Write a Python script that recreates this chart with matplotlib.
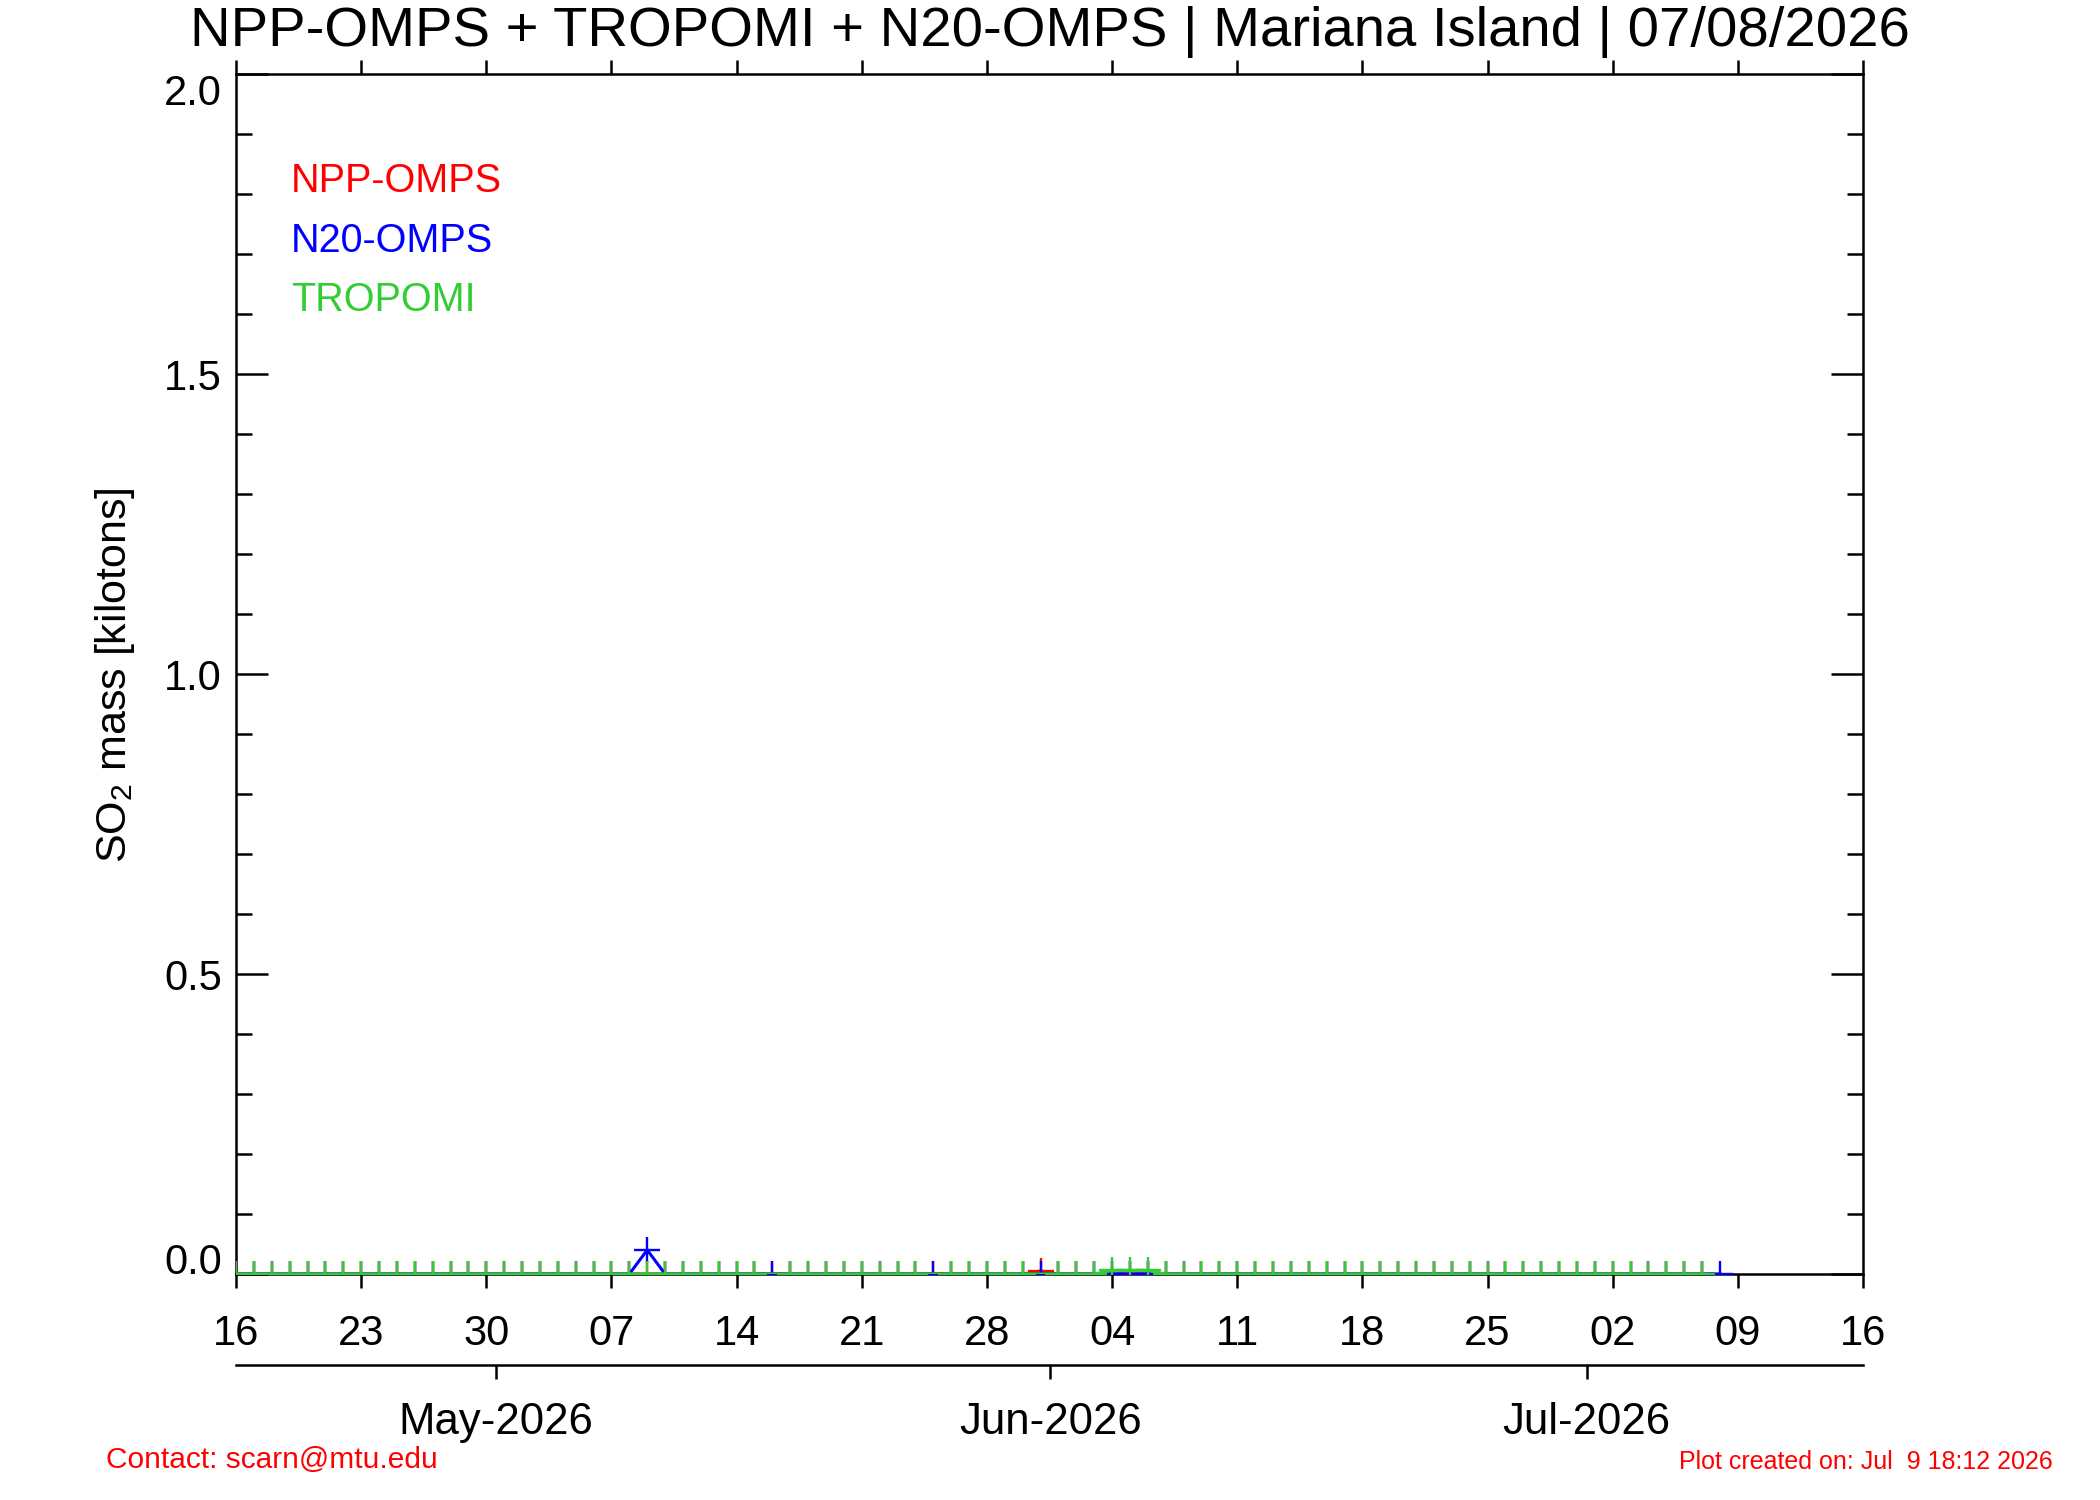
import matplotlib
matplotlib.use("Agg")
import matplotlib.pyplot as plt
import matplotlib.dates as mdates
from matplotlib.ticker import MultipleLocator, FixedLocator, NullLocator
import pandas as pd
import numpy as np

plt.rcParams['font.family'] = ['Liberation Sans', 'DejaVu Sans']
plt.rcParams['mathtext.fontset'] = 'custom'
plt.rcParams['mathtext.rm'] = 'Liberation Sans'
plt.rcParams['mathtext.default'] = 'regular'

# ---------------- data ----------------
title = "NPP-OMPS + TROPOMI + N20-OMPS | Mariana Island | 07/08/2026"
series_names = ["NPP-OMPS", "N20-OMPS", "TROPOMI"]
series_colors = ["#FF0000", "#0000FF", "#32CD32"]

npp_start = "2026-04-16"
npp_values = [
    0, 0, 0, 0, 0, 0, 0,            # Apr 16-22
    0, 0, 0, 0, 0, 0, 0,            # Apr 23-29
    0, 0, 0, 0, 0, 0, 0,            # Apr 30-May 6
    0, 0, 0, 0, 0, 0, 0,            # May 7-13
    0, 0, 0, 0, 0, 0, 0,            # May 14-20
    0, 0, 0, 0, 0, 0, 0,            # May 21-27
    0, 0, 0, 0.005, 0, 0, 0,        # May 28-Jun 3
    0, 0, 0, 0, 0, 0, 0,            # Jun 4-10
    0, 0, 0, 0, 0, 0, 0,            # Jun 11-17
    0, 0, 0, 0, 0, 0, 0,            # Jun 18-24
    0, 0, 0, 0, 0, 0, 0,            # Jun 25-Jul 1
    0, 0, 0, 0, 0, 0,               # Jul 2-7
]

n20_start = "2026-04-16"
n20_values = [
    0, 0, 0, 0, 0, 0, 0,            # Apr 16-22
    0, 0, 0, 0, 0, 0, 0,            # Apr 23-29
    0, 0, 0, 0, 0, 0, 0,            # Apr 30-May 6
    0, 0, 0.04, 0, 0, 0, 0,         # May 7-13
    0, 0, 0, 0, 0, 0, 0,            # May 14-20
    0, 0, 0, 0, 0, 0, 0,            # May 21-27
    0, 0, 0, 0, 0, 0, 0,            # May 28-Jun 3
    0, 0, 0, 0, 0, 0, 0,            # Jun 4-10
    0, 0, 0, 0, 0, 0, 0,            # Jun 11-17
    0, 0, 0, 0, 0, 0, 0,            # Jun 18-24
    0, 0, 0, 0, 0, 0, 0,            # Jun 25-Jul 1
    0, 0, 0, 0, 0, 0, 0,            # Jul 2-8
]

tropomi_start = "2026-04-16"
tropomi_values = [
    0, 0, 0, 0, 0, 0, 0,            # Apr 16-22
    0, 0, 0, 0, 0, 0, 0,            # Apr 23-29
    0, 0, 0, 0, 0, 0, 0,            # Apr 30-May 6
    0, 0, 0, 0, 0, 0, 0,            # May 7-13
    0, 0, None, 0, 0, 0, 0,         # May 14-20
    0, 0, 0, 0, None, 0, 0,         # May 21-27
    0, 0, 0, None, 0, 0, 0,         # May 28-Jun 3
    0.006, 0.006, 0.006, 0, 0, 0, 0,  # Jun 4-10
    0, 0, 0, 0, 0, 0, 0,            # Jun 11-17
    0, 0, 0, 0, 0, 0, 0,            # Jun 18-24
    0, 0, 0, 0, 0, 0, 0,            # Jun 25-Jul 1
    0, 0, 0, 0, 0, 0,               # Jul 2-7
]

x_start = "2026-04-16"
x_end = "2026-07-16"
y_min, y_max = 0.0, 2.0
y_ticks = [0.0, 0.5, 1.0, 1.5, 2.0]
y_tick_labels = ["0.0", "0.5", "1.0", "1.5", "2.0"]
month_ticks = ["2026-05-01", "2026-06-01", "2026-07-01"]
month_labels = ["May-2026", "Jun-2026", "Jul-2026"]
ylabel = "SO$_2$ mass [kilotons]"
contact = "Contact: scarn@mtu.edu"
created = "Plot created on: Jul  9 18:12 2026"

# ---------------- figure ----------------
W, H = 2100, 1500
DPI = 100
fig = plt.figure(figsize=(W / DPI, H / DPI), dpi=DPI)
fig.patch.set_facecolor("white")

L, R, T, B = 236, 1863, 74, 1274
ax = fig.add_axes([L / W, 1 - B / H, (R - L) / W, (B - T) / H])


def to_series(start, vals):
    d = pd.date_range(start, periods=len(vals), freq="D")
    v = np.array([np.nan if x is None else x for x in vals], dtype=float)
    m = ~np.isnan(v)
    return d[m], v[m]


all_data = [to_series(npp_start, npp_values),
            to_series(n20_start, n20_values),
            to_series(tropomi_start, tropomi_values)]

for z, ((d, v), c) in enumerate(zip(all_data, series_colors)):
    ax.plot(d, v, color=c, lw=2.2, marker="+", markersize=18.5, mew=1.7,
            zorder=3 + z, clip_on=True)

ax.set_xlim(pd.Timestamp(x_start), pd.Timestamp(x_end))
ax.set_ylim(y_min, y_max)

LW = 1.8
for s in ax.spines.values():
    s.set_linewidth(LW)
    s.set_zorder(2)

# x axis: weekly ticks
week_ticks = pd.date_range(x_start, x_end, freq="7D")
ax.xaxis.set_major_locator(FixedLocator(mdates.date2num(week_ticks)))
ax.xaxis.set_major_formatter(mdates.DateFormatter("%d"))
ax.xaxis.set_minor_locator(NullLocator())
ax.tick_params(axis="x", which="major", direction="out", length=10, width=LW,
               top=True, bottom=True, labelsize=30, pad=18.5)

# y axis
ax.set_yticks(y_ticks)
ax.set_yticklabels(y_tick_labels)
ax.yaxis.set_minor_locator(MultipleLocator(0.1))
ax.tick_params(axis="y", which="major", direction="in", length=23, width=LW,
               left=True, right=True, labelsize=30, pad=10)
ax.tick_params(axis="y", which="minor", direction="in", length=11.5, width=LW,
               left=True, right=True)
ylabs = ax.get_yticklabels()
ylabs[0].set_va("baseline")
ylabs[-1].set_va("top")

# month axis
MY = 1365
ax2 = fig.add_axes([L / W, 1 - MY / H, (R - L) / W, 0.0001])
ax2.patch.set_visible(False)
for k in ["top", "left", "right"]:
    ax2.spines[k].set_visible(False)
ax2.spines["bottom"].set_linewidth(LW)
ax2.set_xlim(pd.Timestamp(x_start), pd.Timestamp(x_end))
ax2.set_yticks([])
mt = [pd.Timestamp(m) - pd.Timedelta(hours=11) for m in month_ticks]
ax2.set_xticks(mdates.date2num(mt))
ax2.set_xticklabels(month_labels)
ax2.tick_params(axis="x", direction="out", length=10, width=LW,
                labelsize=31.5, pad=16.5)

# texts
fig.text(0.5, 1 - 32 / H, title, ha="center", va="center", fontsize=40.5)
fig.text(115 / W, 1 - 675 / H, ylabel, rotation=90, ha="center", va="center",
         fontsize=31)
leg_y = [181, 241, 300]
for name, c, yy in zip(series_names, series_colors, leg_y):
    fig.text(291 / W, 1 - yy / H, name, color=c, ha="left", va="center",
             fontsize=28.5)
fig.text(106 / W, 1 - 1460 / H, contact, color="#FF0000", ha="left",
         va="center", fontsize=21.5)
fig.text(2053 / W, 1 - 1462 / H, created, color="#FF0000", ha="right",
         va="center", fontsize=18)

fig.savefig("out.png", dpi=DPI, facecolor="white")
